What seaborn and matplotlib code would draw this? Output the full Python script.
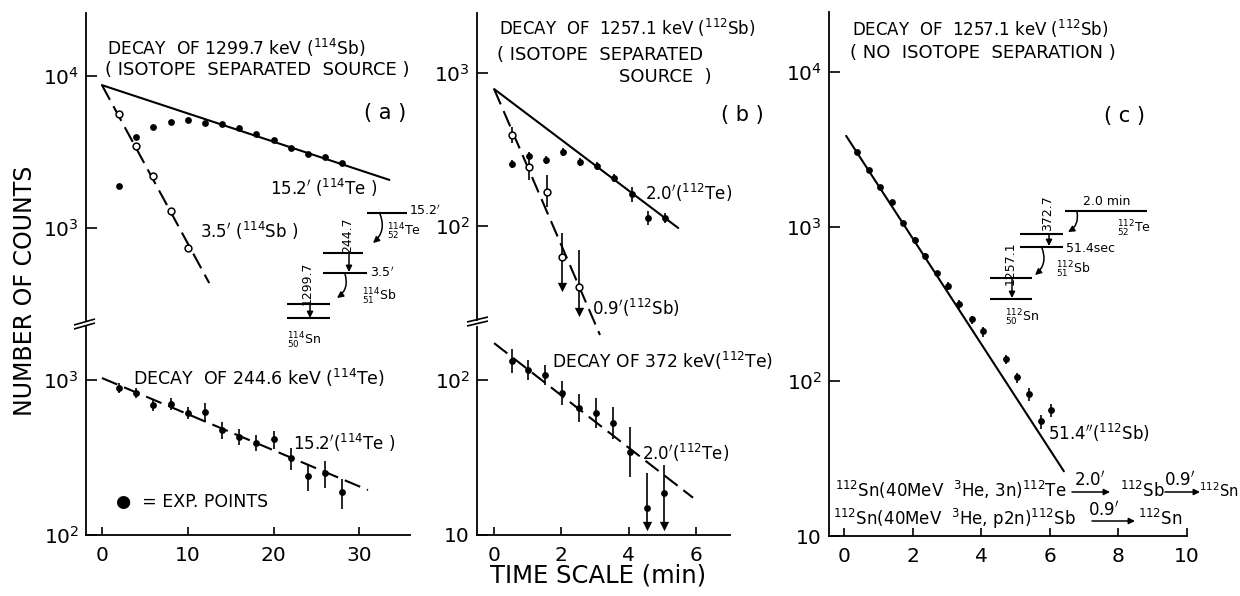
import matplotlib.pyplot as plt
import matplotlib.ticker as mticker
from matplotlib.patches import FancyArrowPatch
import seaborn as sns

sns.set_theme(style='ticks')
plt.rcParams['font.family'] = ['DejaVu Sans']
plt.rcParams['mathtext.fontset'] = 'dejavusans'

W, H = 1240, 596
K = 'black'

# ---- (a) 1299.7 keV line of 114Sb, isotope separated source ----
a_t_tot = [2, 4, 6, 8, 10, 12, 14, 16, 18, 20, 22, 24, 26, 28]
a_n_tot = [1890, 3970, 4620, 4980, 5140, 4910, 4830, 4550, 4150, 3790, 3360, 3070, 2930, 2680]
a_t_sb = [2, 4, 6, 8, 10]
a_n_sb = [5620, 3460, 2200, 1295, 738]
a_fit_te_t = [0, 33.5]
a_fit_te_n = [8700, 2070]
a_fit_sb_t = [0, 12.5]
a_fit_sb_n = [8700, 434]

# (a) lower: 244.6 keV line of 114Te
a2_t = [2, 4, 6, 8, 10, 12, 14, 16, 18, 20, 22, 24, 26, 28]
a2_n = [888, 824, 690, 700, 613, 622, 476, 429, 393, 416, 314, 240, 251, 189]
a2_err = [67, 62, 62, 63, 55, 84, 57, 51, 47, 56, 52, 48, 50, 42]
a2_fit_t = [0, 31]
a2_fit_n = [1030, 195]

# ---- (b) 1257.1 keV line of 112Sb, isotope separated source ----
b_t_tot = [0.54, 1.04, 1.55, 2.05, 2.56, 3.07, 3.57, 4.1, 4.58, 5.09]
b_n_tot = [254, 287, 270, 305, 262, 247, 206, 162, 113, 113]
b_err_tot = [15, 17, 16, 18, 16, 15, 13, 18, 12, 9]
b_t_sb = [0.54, 1.04, 1.58, 2.02, 2.53]
b_n_sb = [394, 243, 167, 62.7, 40]
b_sb_lo = [45, 43, 34, 22.7, 12.6]
b_sb_hi = [50, 31, 49, 27, 30]
b_sb_limit = [False, False, False, True, True]
b_fit_te_t = [0, 5.48]
b_fit_te_n = [785, 97]
b_fit_sb_t = [0, 3.15]
b_fit_sb_n = [785, 19.4]

# (b) lower: 372 keV line of 112Te
b2_t = [0.54, 1.01, 1.52, 2.02, 2.53, 3.04, 3.54, 4.05, 4.55, 5.06]
b2_n = [133, 116, 108, 82.4, 65.9, 61.3, 52.8, 34.3, 14.9, 18.7]
b2_lo = [21.7, 16, 14.9, 13.4, 12.4, 12.2, 11.1, 10.6, 3.5, 7.3]
b2_hi = [26, 18.6, 17.3, 16.1, 15.2, 15.3, 14.2, 15.4, 10.2, 9.6]
b2_limit = [False] * 8 + [True, True]
b2_fit_t = [0, 5.92]
b2_fit_n = [173, 17.4]

# ---- (c) 1257.1 keV line of 112Sb, no isotope separation ----
c_t = [0.38, 0.73, 1.05, 1.40, 1.72, 2.07, 2.36, 2.71, 3.03, 3.35, 3.73, 4.05,
       4.72, 5.04, 5.39, 5.74, 6.04]
c_n = [3050, 2335, 1810, 1450, 1062, 824, 650, 498, 416, 314, 251, 210,
       139, 106, 82.5, 55.2, 65]
c_err = [46, 35, 27, 44, 32, 37, 29, 22, 25, 19, 15, 16, 10, 8, 7.4, 5.8, 5.9]
c_fit_t = [0.06, 6.41]
c_fit_n = [3860, 26.2]


fig = plt.figure(figsize=(W / 100, H / 100), dpi=100)


def rect(l, t, r, b):
    return [l / W, 1 - b / H, (r - l) / W, (b - t) / H]


def style(ax, xlim, ylim, yticks, ylabels, xticks=None):
    ax.set_yscale('log')
    ax.set_xlim(xlim)
    ax.set_ylim(ylim)
    ax.set_yticks(yticks, ylabels)
    ax.yaxis.set_minor_locator(mticker.NullLocator())
    ax.set_facecolor('none')
    ax.spines['top'].set_visible(False)
    ax.spines['right'].set_visible(False)
    for s in ax.spines.values():
        s.set_linewidth(1.3)
        s.set_color(K)
    ax.tick_params(axis='y', direction='in', length=8, width=1.2,
                   labelsize=14.5, pad=5, colors=K)
    if xticks is None:
        ax.spines['bottom'].set_visible(False)
        ax.set_xticks([])
    else:
        ax.set_xticks(xticks)
        ax.tick_params(axis='x', direction='in', length=6, width=1.2,
                       labelsize=14.5, pad=8, colors=K)
    ax.set_xlabel('')
    ax.set_ylabel('')


def fit(ax, t, n, dashed=False):
    sns.lineplot(x=t, y=n, ax=ax, color=K, lw=1.5, sort=False, estimator=None)
    if dashed:
        ax.lines[-1].set_dashes((8, 3.5))


def dots(ax, t, n, err=None, hollow=False):
    if err is not None:
        ax.errorbar(t, n, yerr=err, fmt='none', ecolor=K, elinewidth=1.2, capsize=0)
    sns.scatterplot(x=t, y=n, ax=ax, s=24, color='white' if hollow else K,
                    edgecolor=K, linewidth=1.1 if hollow else 0, zorder=3)


def limits(ax, t, n, lo, flag):
    tt = [x for x, f in zip(t, flag) if f]
    yy = [y - e for y, e, f in zip(n, lo, flag) if f]
    sns.scatterplot(x=tt, y=yy, ax=ax, marker='v', s=45, color=K, linewidth=0, zorder=3)


# panel (a)
ax1 = fig.add_axes(rect(86, 13, 410, 320))
fit(ax1, a_fit_te_t, a_fit_te_n)
fit(ax1, a_fit_sb_t, a_fit_sb_n, dashed=True)
dots(ax1, a_t_tot, a_n_tot)
dots(ax1, a_t_sb, a_n_sb, hollow=True)
style(ax1, (-1.86, 35.9), (248, 25940), [1e3, 1e4], [r'$10^3$', r'$10^4$'])

ax2 = fig.add_axes(rect(86, 327, 410, 535))
fit(ax2, a2_fit_t, a2_fit_n, dashed=True)
dots(ax2, a2_t, a2_n, err=a2_err)
style(ax2, (-1.86, 35.9), (100, 2198), [1e2, 1e3], [r'$10^2$', r'$10^3$'],
      xticks=[0, 10, 20, 30])

# panel (b)
ax3 = fig.add_axes(rect(477, 13, 730, 320))
fit(ax3, b_fit_te_t, b_fit_te_n)
fit(ax3, b_fit_sb_t, b_fit_sb_n, dashed=True)
ax3.lines[-1].set_clip_on(False)
dots(ax3, b_t_tot, b_n_tot, err=b_err_tot)
dots(ax3, b_t_sb, b_n_sb, err=[b_sb_lo, b_sb_hi], hollow=True)
limits(ax3, b_t_sb, b_n_sb, b_sb_lo, b_sb_limit)
style(ax3, (-0.51, 7.02), (24.3, 2466), [1e2, 1e3], [r'$10^2$', r'$10^3$'])

ax4 = fig.add_axes(rect(477, 327, 730, 535))
fit(ax4, b2_fit_t, b2_fit_n, dashed=True)
dots(ax4, b2_t, b2_n, err=[b2_lo, b2_hi])
limits(ax4, b2_t, b2_n, b2_lo, b2_limit)
style(ax4, (-0.51, 7.02), (10, 220), [10, 1e2], ['10', r'$10^2$'],
      xticks=[0, 2, 4, 6])

# panel (c)
ax5 = fig.add_axes(rect(829, 12, 1187, 536))
fit(ax5, c_fit_t, c_fit_n)
dots(ax5, c_t, c_n, err=c_err)
style(ax5, (-0.44, 10), (10, 24400), [10, 1e2, 1e3, 1e4],
      ['10', r'$10^2$', r'$10^3$', r'$10^4$'], xticks=[0, 2, 4, 6, 8, 10])

# overlay in pixel units for labels and decay schemes
ov = fig.add_axes([0, 0, 1, 1])
ov.set_xlim(0, W)
ov.set_ylim(H, 0)
ov.axis('off')
ov.patch.set_alpha(0)


def txt(x, y, s, size=12, va='baseline', **kw):
    ov.text(x, y, s, fontsize=size, color=K, va=va, **kw)


def seg(p0, p1, lw=1.5):
    ov.plot([p0[0], p1[0]], [p0[1], p1[1]], color=K, lw=lw, solid_capstyle='butt')


def arr(p0, p1, rad=0.0):
    ov.add_patch(FancyArrowPatch(p0, p1, arrowstyle='-|>', mutation_scale=9,
                                 connectionstyle=f'arc3,rad={rad}', color=K, lw=1.1,
                                 shrinkA=0, shrinkB=0))


P = r'$^{\prime}$'

# axis titles
txt(25, 291, 'NUMBER OF COUNTS', size=17, va='center', ha='center', rotation=90)
txt(598, 576, 'TIME SCALE (min)', size=17.5, va='center', ha='center')

# break marks
for dy in (0, 4):
    seg((74, 325 + dy), (95, 319 + dy), lw=1.2)
    seg((467, 322 + dy), (488, 317 + dy), lw=1.2)

# panel (a) texts
txt(107, 55, r'DECAY  OF 1299.7 keV ($^{114}$Sb)', size=12.3)
txt(105, 75, '( ISOTOPE  SEPARATED  SOURCE )', size=13)
txt(385, 119, '( a )', size=15, ha='center')
txt(270, 195, '15.2' + P + r' ($^{114}$Te )')
txt(200, 238, '3.5' + P + r' ($^{114}$Sb )')
txt(133, 385, r'DECAY  OF 244.6 keV ($^{114}$Te)', size=12.5)
txt(293, 450, '15.2' + P + r'($^{114}$Te )')
txt(116, 507, '●  = EXP. POINTS', size=12.5)

# panel (a) decay scheme
seg((367, 213), (407, 213))
txt(409, 215, '15.2' + P, size=9)
txt(387, 232, r'$^{114}_{52}$Te', size=9, va='center')
arr((380, 214), (373, 243), rad=-0.35)
seg((323, 253), (363, 253))
txt(348, 235, '244.7', size=9, va='center', ha='center', rotation=90)
arr((349, 253), (349, 272))
seg((323, 273), (367, 273))
txt(370, 277, '3.5' + P, size=9)
arr((345, 274), (337, 298), rad=-0.35)
txt(362, 297, r'$^{114}_{51}$Sb', size=9, va='center')
txt(307, 283, '1299.7', size=9, va='center', ha='center', rotation=90)
seg((287, 304), (330, 304))
seg((287, 318), (330, 318))
arr((310, 304), (310, 318))
txt(287, 341, r'$^{114}_{50}$Sn', size=9, va='center')

# panel (b) texts
txt(499, 35, r'DECAY  OF  1257.1 keV ($^{112}$Sb)')
txt(497, 60, '( ISOTOPE  SEPARATED', size=13)
txt(712, 82, 'SOURCE  )', size=13, ha='right')
txt(742, 121, '( b )', size=15, ha='center')
txt(645, 200, '2.0' + P + r'($^{112}$Te)')
txt(592, 315, '0.9' + P + r'($^{112}$Sb)')
txt(552, 368, r'DECAY OF 372 keV($^{112}$Te)', size=12.3)
txt(642, 460, '2.0' + P + r'($^{112}$Te)')

# panel (c) texts
txt(852, 36, r'DECAY  OF  1257.1 keV ($^{112}$Sb)')
txt(850, 58, '( NO  ISOTOPE  SEPARATION )', size=13)
txt(1125, 122, '( c )', size=15, ha='center')
txt(1048, 440, '51.4' + r'$^{\prime\prime}$' + r'($^{112}$Sb)')
txt(835, 497, r'$^{112}$Sn(40MeV  $^{3}$He, 3n)$^{112}$Te')
txt(1090, 485, '2.0' + P, ha='center')
arr((1072, 492), (1110, 492))
txt(1120, 497, r'$^{112}$Sb')
txt(1180, 485, '0.9' + P, ha='center')
arr((1165, 492), (1200, 492))
txt(1239, 497, r'$^{112}$Sn', size=10.5, ha='right')
txt(833, 525, r'$^{112}$Sn(40MeV  $^{3}$He, p2n)$^{112}$Sb')
txt(1104, 515, '0.9' + P, ha='center')
arr((1092, 521), (1135, 521))
txt(1138, 525, r'$^{112}$Sn')

# panel (c) decay scheme
seg((1065, 211), (1147, 211))
txt(1107, 205, '2.0 min', size=9, ha='center')
txt(1117, 229, r'$^{112}_{52}$Te', size=9, va='center')
arr((1077, 212), (1068, 232), rad=-0.35)
seg((1020, 234), (1063, 234))
txt(1048, 213, '372.7', size=9, va='center', ha='center', rotation=90)
arr((1049, 234), (1049, 246))
seg((1020, 247), (1063, 247))
txt(1066, 248, '51.4sec', size=9, va='center')
arr((1042, 248), (1035, 275), rad=-0.35)
txt(1056, 270, r'$^{112}_{51}$Sb', size=9, va='center')
seg((990, 278), (1032, 278))
txt(1010, 263, '1257.1', size=9, va='center', ha='center', rotation=90)
arr((1012, 278), (1012, 298))
seg((990, 299), (1032, 299))
txt(1005, 318, r'$^{112}_{50}$Sn', size=9, va='center')

fig.savefig('out.png', dpi=100)
